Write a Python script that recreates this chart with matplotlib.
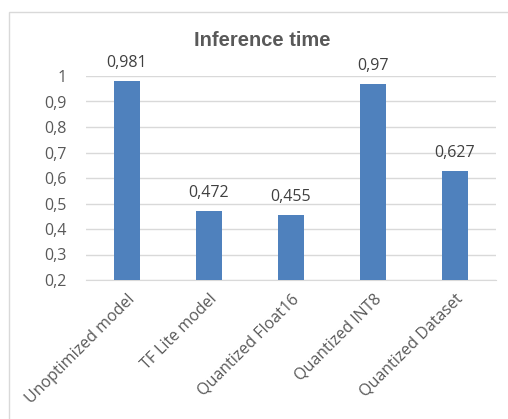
import matplotlib.pyplot as plt
from matplotlib.patches import Rectangle

plt.rcParams['font.family'] = ['Open Sans', 'DejaVu Sans']

models = ['Unoptimized model', 'TF Lite model', 'Quantized Float16',
          'Quantized INT8', 'Quantized Dataset']
times = [0.981, 0.472, 0.455, 0.97, 0.627]
yticks = [0.2, 0.3, 0.4, 0.5, 0.6, 0.7, 0.8, 0.9, 1.0]

W, H = 508, 419
fig = plt.figure(figsize=(W / 100, H / 100), dpi=100)

# chart frame (runs off the right and bottom edge)
fig.patches.append(Rectangle((9 / W, -0.1), 1.0, 1 - 12 / H + 0.1,
                             transform=fig.transFigure, fill=False,
                             edgecolor='#d9d9d9', linewidth=1))

ax = fig.add_axes([86 / W, 1 - 280 / H, (496 - 86) / W, (280 - 76) / H])
x = range(len(models))
ax.bar(x, times, width=0.32, color='#4f81bd', zorder=3)
ax.set_xlim(-0.5, len(models) - 0.5)
ax.set_ylim(0.2, 1.0)
ax.set_yticks(yticks)
ax.set_yticklabels([('%g' % t).replace('.', ',') for t in yticks])
ax.set_xticks(list(x))
ax.set_xticklabels(models, rotation=45, ha='right', rotation_mode='anchor')
ax.tick_params(axis='both', length=0, colors='#595959', labelsize=11.5)
ax.tick_params(axis='y', pad=14)
ax.tick_params(axis='x', pad=8)
ax.grid(axis='y', color='#d9d9d9', linewidth=1, zorder=0)
for s in ax.spines.values():
    s.set_visible(False)
ax.spines['bottom'].set_visible(True)
ax.spines['bottom'].set_color('#d9d9d9')

for xi, t in zip(x, times):
    ax.annotate(('%g' % t).replace('.', ','), (xi, t), xytext=(0, 7),
                textcoords='offset points', ha='center', va='bottom',
                fontsize=11.5, color='#404040', annotation_clip=False)

fig.text(262 / W, 1 - 41 / H, 'Inference time', ha='center', va='center',
         fontsize=14.5, fontweight='bold', color='#595959',
         family=['Liberation Sans', 'DejaVu Sans'])

fig.savefig('out.png', dpi=100)
